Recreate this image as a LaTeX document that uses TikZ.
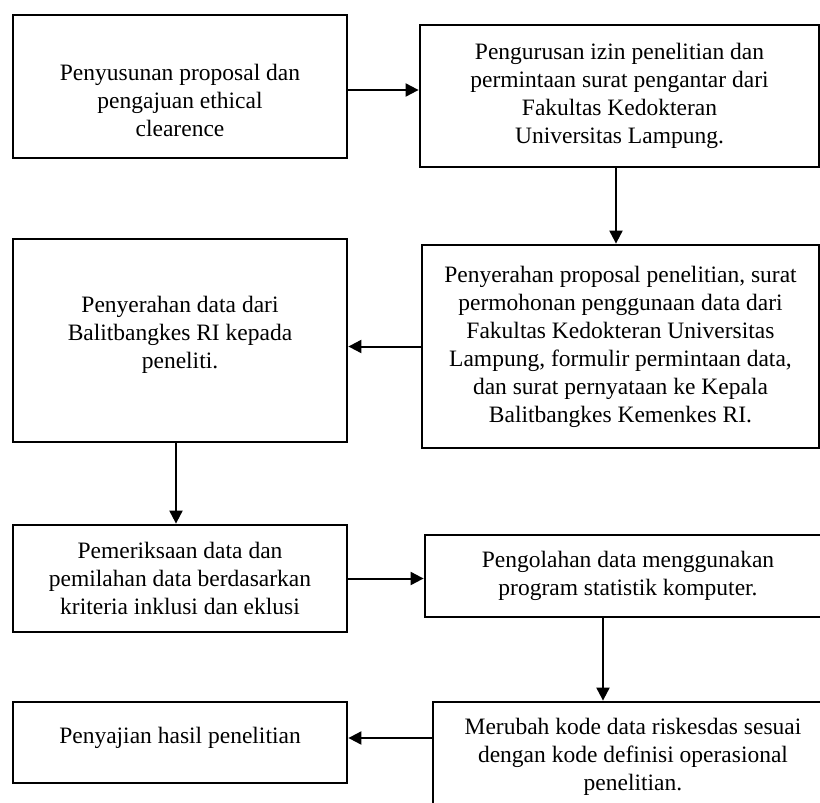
\documentclass[tikz,border=0pt]{standalone}
\usepackage{fontspec}
\setmainfont{Liberation Serif}
\usetikzlibrary{arrows.meta}
\begin{document}
\begin{tikzpicture}[x=1pt,y=-1pt,
  txt/.style={align=center,inner sep=0pt,font=\fontsize{23.5}{28}\selectfont},
  box/.style={draw,line width=2.8pt,txt},
  arr/.style={-{Triangle[length=13pt,width=13pt]},line width=2pt}]
  % Frame
  \useasboundingbox (0,0) rectangle (820,803);
  \clip (0,0) rectangle (820,803);
  % Boxes
  \node[box,minimum width=334pt,minimum height=143pt,
    label={[txt,yshift=-13.5pt]center:{Penyusunan proposal dan\\pengajuan ethical\\clearence}}]
    (proposal) at (180,86.5) {};
  \node[box,minimum width=399pt,minimum height=142pt] (izin) at (619.5,96)
    {Pengurusan izin penelitian dan\\permintaan surat pengantar dari\\Fakultas Kedokteran\\Universitas Lampung.};
  \node[box,minimum width=397pt,minimum height=203pt] (serah) at (620.5,346.5)
    {Penyerahan proposal penelitian, surat\\permohonan penggunaan data dari\\Fakultas Kedokteran Universitas\\Lampung, formulir permintaan data,\\dan surat pernyataan ke Kepala\\Balitbangkes Kemenkes RI.};
  \node[box,minimum width=334pt,minimum height=203pt,
    label={[txt,yshift=6pt]center:{Penyerahan data dari\\Balitbangkes RI kepada\\peneliti.}}]
    (terima) at (180,340.5) {};
  \node[box,minimum width=334pt,minimum height=107pt] (periksa) at (180,578.5)
    {Pemeriksaan data dan\\pemilahan data berdasarkan\\kriteria inklusi dan eklusi};
  \node[box,minimum width=406pt,minimum height=82pt] (olah) at (628,576)
    {Pengolahan data menggunakan\\program statistik komputer.};
  \node[box,minimum width=400pt,minimum height=110pt] (ubah) at (633,757)
    {Merubah kode data riskesdas sesuai\\dengan kode definisi operasional\\penelitian.};
  \node[box,minimum width=334pt,minimum height=81pt,
    label={[txt,yshift=5pt]center:{Penyajian hasil penelitian}}]
    (sajian) at (180,742.5) {};
  % Arrows
  \draw[arr] ([yshift=-3.5pt]proposal.east) -- ([yshift=-3.5pt]proposal.east -| izin.west);
  \draw[arr] ([xshift=-3.5pt]izin.south) -- ([xshift=-3.5pt]izin.south |- serah.north);
  \draw[arr] (serah.west) -- (serah.west -| terima.east);
  \draw[arr] ([xshift=-4pt]terima.south) -- ([xshift=-4pt]terima.south |- periksa.north);
  \draw[arr] (periksa.east) -- (periksa.east -| olah.west);
  \draw[arr] ([xshift=-25pt]olah.south) -- ([xshift=-25pt]olah.south |- ubah.north);
  \draw[arr] ([yshift=19pt]ubah.west) -- ([yshift=19pt]ubah.west -| sajian.east);
\end{tikzpicture}
\end{document}
